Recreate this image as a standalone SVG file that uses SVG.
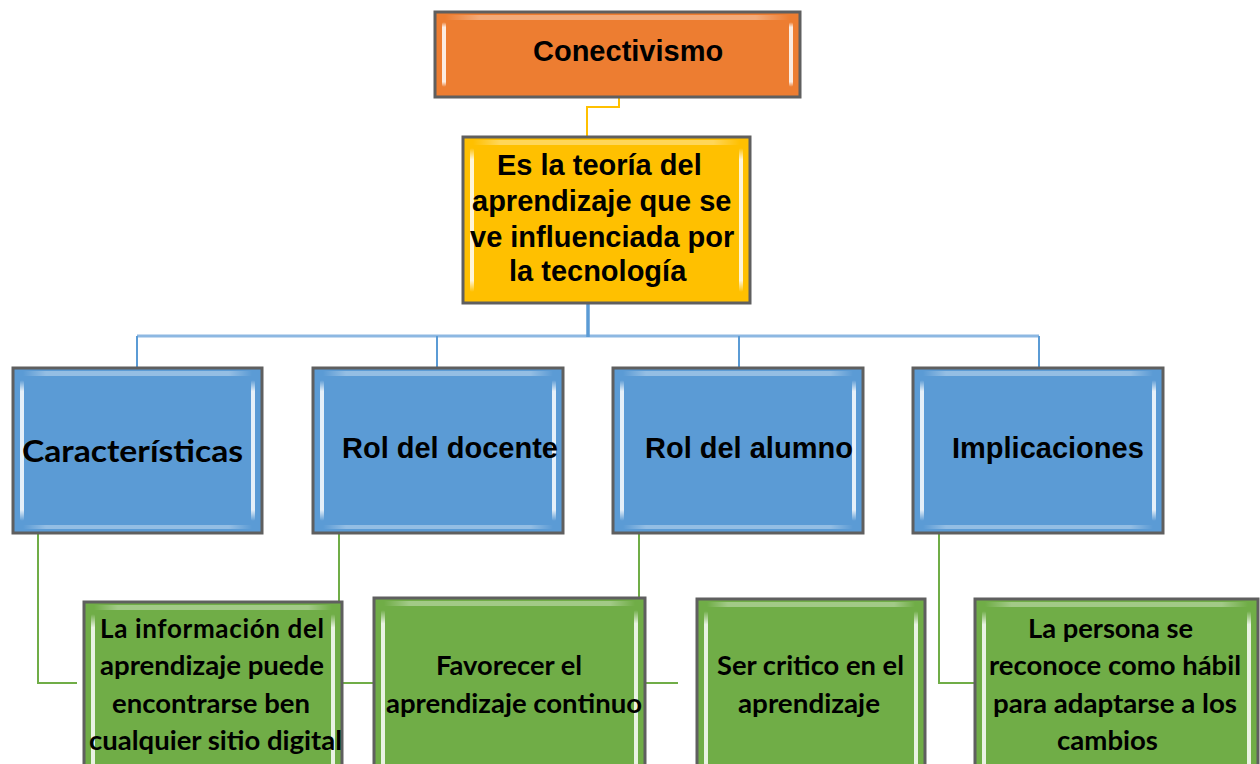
<svg xmlns="http://www.w3.org/2000/svg" width="1260" height="764" viewBox="0 0 1260 764">
  <defs>
    <linearGradient id="hl" x1="0" y1="0" x2="0" y2="1">
      <stop offset="0" stop-color="#ffffff" stop-opacity="0"/>
      <stop offset="0.08" stop-color="#ffffff" stop-opacity="0.85"/>
      <stop offset="0.92" stop-color="#ffffff" stop-opacity="0.85"/>
      <stop offset="1" stop-color="#ffffff" stop-opacity="0"/>
    </linearGradient>
    <linearGradient id="hb" x1="0" y1="0" x2="1" y2="0">
      <stop offset="0" stop-color="#ffffff" stop-opacity="0"/>
      <stop offset="0.1" stop-color="#ffffff" stop-opacity="0.35"/>
      <stop offset="0.9" stop-color="#ffffff" stop-opacity="0.35"/>
      <stop offset="1" stop-color="#ffffff" stop-opacity="0"/>
    </linearGradient>
  </defs>
  <style>
    .box { stroke: #5f5f5f; stroke-width: 3; }
    .orange { fill: #ED7D31; }
    .yellow { fill: #FFC000; }
    .blue { fill: #5B9BD5; }
    .green { fill: #70AD47; }
    .hl { fill: url(#hl); }
    .hb { fill: url(#hb); }
    .arial { font-family: "Liberation Sans", Arial, sans-serif; font-weight: bold; fill: #000; }
    .cal { font-family: Lato, "Liberation Sans", sans-serif; font-weight: bold; fill: #000; }
    .c-orange { fill: none; stroke: #FFC000; stroke-width: 2; }
    .c-blue { fill: none; stroke: #5B9BD5; stroke-width: 2; }
    .c-blue-main { fill: none; stroke: #8DB8E2; stroke-width: 3; }
    .c-blue-thick { fill: none; stroke: #5B9BD5; stroke-width: 3.5; }
    .c-green { fill: none; stroke: #70AD47; stroke-width: 2; }
  </style>
  <rect width="1260" height="764" fill="#ffffff"/>

  <g id="connectors">
    <path class="c-orange" d="M619,97 V107 H587 V137"/>
    <path class="c-blue-main" d="M137,336 H1039"/>
    <path class="c-blue-thick" d="M588,303 V337"/>
    <path class="c-blue" d="M137,336 V368 M437,336 V368 M739,336 V368 M1039,336 V368"/>
    <path class="c-green" d="M38,533 V683 H77"/>
    <path class="c-green" d="M339,533 V683 H374"/>
    <path class="c-green" d="M639,533 V683 H678"/>
    <path class="c-green" d="M939,533 V683 H975"/>
  </g>

  <g id="node-conectivismo">
    <rect class="box orange" x="435" y="12" width="365" height="85"/>
    <rect class="hb" x="445" y="15" width="345" height="5"/>
    <rect class="hl" x="442" y="22" width="4" height="65" rx="2"/>
    <rect class="hl" x="789" y="22" width="4" height="65" rx="2"/>
    <text class="arial" x="533" y="61" font-size="29">Conectivismo</text>
  </g>

  <g id="node-teoria">
    <rect class="box yellow" x="463" y="137" width="287" height="166"/>
    <rect class="hb" x="473" y="140" width="267" height="5"/>
    <rect class="hl" x="470" y="148" width="4" height="144" rx="2"/>
    <rect class="hl" x="739" y="148" width="4" height="144" rx="2"/>
    <text class="arial" font-size="29">
      <tspan x="497" y="175">Es la teoría del</tspan>
      <tspan x="472" y="211">aprendizaje que se</tspan>
      <tspan x="470" y="247">ve influenciada por</tspan>
      <tspan x="509" y="281">la tecnología</tspan>
    </text>
  </g>

  <g id="node-caracteristicas">
    <rect class="box blue" x="13" y="368" width="249" height="165"/>
    <rect class="hb" x="23" y="371" width="229" height="5"/>
    <rect class="hb" x="23" y="525" width="229" height="4"/>
    <rect class="hl" x="20" y="380" width="4" height="141" rx="2"/>
    <rect class="hl" x="251" y="380" width="4" height="141" rx="2"/>
    <text class="cal" x="22" y="462" font-size="31" textLength="221" lengthAdjust="spacingAndGlyphs">Características</text>
  </g>

  <g id="node-rol-docente">
    <rect class="box blue" x="313" y="368" width="250" height="165"/>
    <rect class="hb" x="323" y="371" width="230" height="5"/>
    <rect class="hb" x="323" y="525" width="230" height="4"/>
    <rect class="hl" x="320" y="380" width="4" height="141" rx="2"/>
    <rect class="hl" x="552" y="380" width="4" height="141" rx="2"/>
    <text class="arial" x="342" y="458" font-size="29">Rol del docente</text>
  </g>

  <g id="node-rol-alumno">
    <rect class="box blue" x="613" y="368" width="250" height="165"/>
    <rect class="hb" x="623" y="371" width="230" height="5"/>
    <rect class="hb" x="623" y="525" width="230" height="4"/>
    <rect class="hl" x="620" y="380" width="4" height="141" rx="2"/>
    <rect class="hl" x="852" y="380" width="4" height="141" rx="2"/>
    <text class="arial" x="645" y="458" font-size="29">Rol del alumno</text>
  </g>

  <g id="node-implicaciones">
    <rect class="box blue" x="913" y="368" width="250" height="165"/>
    <rect class="hb" x="923" y="371" width="230" height="5"/>
    <rect class="hb" x="923" y="525" width="230" height="4"/>
    <rect class="hl" x="920" y="380" width="4" height="141" rx="2"/>
    <rect class="hl" x="1152" y="380" width="4" height="141" rx="2"/>
    <text class="arial" x="952" y="458" font-size="29">Implicaciones</text>
  </g>

  <g id="node-informacion">
    <rect class="box green" x="84" y="602" width="258" height="180"/>
    <rect class="hb" x="94" y="605" width="238" height="5"/>
    <rect class="hl" x="91" y="614" width="4" height="170" rx="2"/>
    <rect class="hl" x="331" y="614" width="4" height="170" rx="2"/>
    <text class="cal" font-size="26" text-anchor="middle" lengthAdjust="spacingAndGlyphs">
      <tspan x="212" y="638" textLength="224">La información del</tspan>
    </text>
    <text class="cal" x="212" y="675" font-size="26" text-anchor="middle" textLength="224" lengthAdjust="spacingAndGlyphs">aprendizaje puede</text>
    <text class="cal" x="211" y="713" font-size="26" text-anchor="middle" textLength="198" lengthAdjust="spacingAndGlyphs">encontrarse ben</text>
    <text class="cal" x="215.5" y="750" font-size="26" text-anchor="middle" textLength="253" lengthAdjust="spacingAndGlyphs">cualquier sitio digital</text>
  </g>

  <g id="node-favorecer">
    <rect class="box green" x="374" y="598" width="271" height="184"/>
    <rect class="hb" x="384" y="601" width="251" height="5"/>
    <rect class="hl" x="381" y="610" width="4" height="170" rx="2"/>
    <rect class="hl" x="634" y="610" width="4" height="170" rx="2"/>
    <text class="cal" x="509" y="675" font-size="26" text-anchor="middle" textLength="146" lengthAdjust="spacingAndGlyphs">Favorecer el</text>
    <text class="cal" x="514" y="713" font-size="26" text-anchor="middle" textLength="256" lengthAdjust="spacingAndGlyphs">aprendizaje continuo</text>
  </g>

  <g id="node-critico">
    <rect class="box green" x="697" y="599" width="228" height="183"/>
    <rect class="hb" x="707" y="602" width="208" height="5"/>
    <rect class="hl" x="704" y="611" width="4" height="170" rx="2"/>
    <rect class="hl" x="914" y="611" width="4" height="170" rx="2"/>
    <text class="cal" x="810.5" y="675" font-size="26" text-anchor="middle" textLength="187" lengthAdjust="spacingAndGlyphs">Ser critico en el</text>
    <text class="cal" x="809" y="713" font-size="26" text-anchor="middle" textLength="142" lengthAdjust="spacingAndGlyphs">aprendizaje</text>
  </g>

  <g id="node-persona">
    <rect class="box green" x="975" y="599" width="283" height="183"/>
    <rect class="hb" x="985" y="602" width="263" height="5"/>
    <rect class="hl" x="982" y="611" width="4" height="170" rx="2"/>
    <rect class="hl" x="1247" y="611" width="4" height="170" rx="2"/>
    <text class="cal" x="1110.5" y="638" font-size="26" text-anchor="middle" textLength="165" lengthAdjust="spacingAndGlyphs">La persona se</text>
    <text class="cal" x="1115" y="675" font-size="26" text-anchor="middle" textLength="252" lengthAdjust="spacingAndGlyphs">reconoce como hábil</text>
    <text class="cal" x="1115" y="713" font-size="26" text-anchor="middle" textLength="244" lengthAdjust="spacingAndGlyphs">para adaptarse a los</text>
    <text class="cal" x="1107.5" y="750" font-size="26" text-anchor="middle" textLength="101" lengthAdjust="spacingAndGlyphs">cambios</text>
  </g>
</svg>
